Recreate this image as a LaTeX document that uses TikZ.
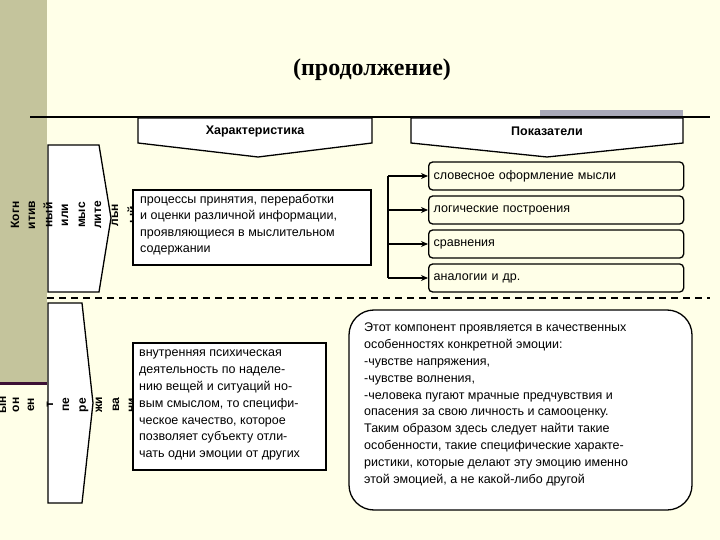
\documentclass[tikz,border=0pt]{standalone}
\usepackage{fontspec}
\setmainfont{Liberation Sans}
\newfontfamily\serifb{Liberation Serif}
\usetikzlibrary{arrows.meta}
\definecolor{bg}{HTML}{FFFFE8}
\definecolor{olive}{HTML}{C4C49C}
\definecolor{plum}{HTML}{3C1034}
\definecolor{grayb}{HTML}{A8A8B8}
\tikzset{
  ln/.style={line width=1.3pt,line join=miter},
  vt/.style={rotate=90,font=\bfseries\fontsize{12}{12}\selectfont,inner sep=0pt},
  body/.style={font=\fontsize{12.5}{16.5}\selectfont,align=left,anchor=north west,inner sep=0pt},
  ind/.style={draw,line width=1.3pt,rounded corners=4pt,anchor=west,minimum width=255pt,minimum height=28pt,font=\fontsize{12.5}{14}\selectfont,inner xsep=5pt,text width=245pt,align=left},
  arr/.style={line width=1.3pt,-{Stealth[length=7pt,width=6pt]}}
}
\begin{document}
\begin{tikzpicture}[x=1pt,y=-1pt]
\fill[bg] (0,0) rectangle (720,540);
\useasboundingbox (0,0) rectangle (720,540);
\fill[olive] (0,0) rectangle (47,382);
\draw[plum,line width=3pt] (0,383) -- (47,383);
\node[font=\serifb\bfseries\fontsize{24}{24}\selectfont] (title) at (372,70) {(продолжение)};
\fill[grayb] (540,110) rectangle (683,126);
\draw[ln] (30,117) -- (710,117);
% header chevrons
\draw[ln,fill=white] (138,118) -- (372,118) -- (372,143) -- (258,157) -- (138,143) -- cycle;
\node[font=\bfseries\fontsize{12.5}{14}\selectfont] (h1) at (255,131) {Характеристика};
\draw[ln,fill=white] (411,118) -- (683,118) -- (683,143) -- (547,157) -- (411,143) -- cycle;
\node[font=\bfseries\fontsize{12.5}{14}\selectfont] (h2) at (547,131) {Показатели};
% cognitive chevron
\draw[ln,fill=white] (48,145) -- (99,145) -- (111,218) -- (99,292) -- (48,292) -- cycle;
\foreach \t/\x in {Когн/15,итив/32,ный/48,или/65,мыс/82,лите/98,льн/115,ый/132}
  \node[vt] at (\x,215) {\t};
% box 1
\draw[ln,fill=white] (133,190) rectangle (371,265);
\node[body] (b1) at (140,194) {процессы принятия, переработки\\и оценки различной информации,\\проявляющиеся в мыслительном\\содержании};
% indicators
\node[ind] (i1) at (428,176) {словесное оформление мысли};
\node[ind] (i2) at (428,210) {логические построения};
\node[ind] (i3) at (428,244) {сравнения};
\node[ind] (i4) at (428,278) {аналогии и др.};
\coordinate (c1) at (388,176);
\coordinate (c4) at (388,278);
\draw[ln] (c1) -- (c4);
\draw[arr] (c1) -- (i1.west);
\draw[arr] (388,210) -- (i2.west);
\draw[arr] (388,244) -- (i3.west);
\draw[arr] (c4) -- (i4.west);
\draw[line width=1.3pt,dash pattern=on 7pt off 5pt] (47,298) -- (710,298);
% emotional chevron
\draw[ln,fill=white] (48,303) -- (82,303) -- (93,403) -- (82,503) -- (48,503) -- cycle;
\foreach \t/\x in {ын/3,он/16,ен/31,т/50,пе/66,ре/84,жи/99,ва/116,ни/132}
  \node[vt] at (\x,405) {\t};
% box 2
\draw[ln,fill=white] (133,343) rectangle (326,470);
\node[body,font=\fontsize{12.5}{16.8}\selectfont] (b2) at (139,350) {внутренняя психическая\\деятельность по наделе-\\нию вещей и ситуаций но-\\вым смыслом, то специфи-\\ческое качество, которое\\позволяет субъекту отли-\\чать одни эмоции от других};
% big rounded box
\draw[ln,fill=white,rounded corners=25pt] (349,310) rectangle (692,510);
\node[body,font=\fontsize{12.5}{16.8}\selectfont] (b3) at (364,323) {Этот компонент проявляется в качественных\\особенностях конкретной эмоции:\\-чувстве напряжения,\\-чувстве волнения,\\-человека пугают мрачные предчувствия и\\опасения за свою личность и самооценку.\\Таким образом здесь следует найти такие\\особенности, такие специфические характе-\\ристики, которые делают эту эмоцию именно\\этой эмоцией, а не какой-либо другой};
\end{tikzpicture}
\end{document}
